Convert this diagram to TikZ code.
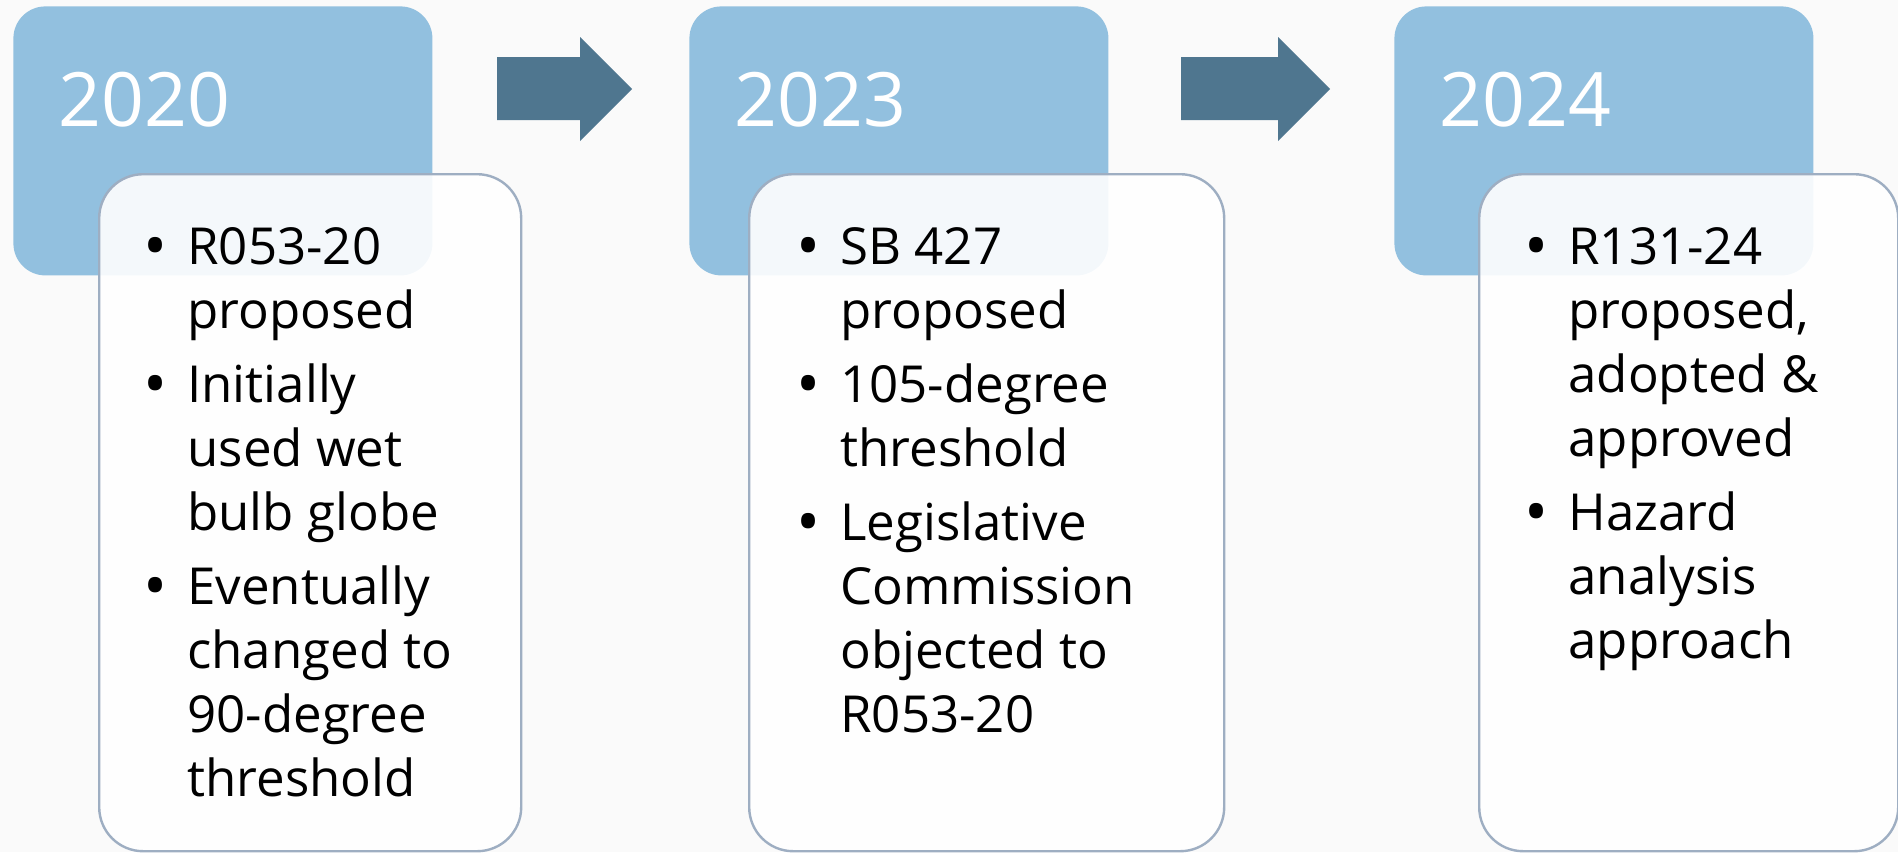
\documentclass[tikz,border=0pt]{standalone}
\usepackage{fontspec}
\setmainfont{Open Sans}
\usetikzlibrary{positioning}
\definecolor{yearblue}{RGB}{146,192,223}
\definecolor{arrowblue}{RGB}{79,118,143}
\definecolor{cardline}{RGB}{158,174,194}
\definecolor{pagegrey}{RGB}{250,250,250}
\newcommand{\bul}{\makebox[21pt][l]{\hspace{-1pt}\raisebox{-2.2pt}{\fontsize{32}{32}\selectfont\textbullet}}}

\begin{document}
\begin{tikzpicture}
    [x=0.5pt, y=-0.5pt, font=\fontsize{25.5}{32}\selectfont,
    % STYLES
    % The year style is used to draw the blue boxes on top
    year/.style={rectangle, fill=yearblue, rounded corners=16pt, minimum width=209.5pt, minimum height=134.5pt, inner sep=0pt, anchor=north west},
    yeartext/.style={text=white, inner sep=0pt, anchor=base west, font=\fontsize{37.5}{45}\selectfont},
    % The card style is used for the white boxes with the bullet points
    card/.style={rectangle, draw=cardline, line width=1.2pt, fill=white, fill opacity=0.9, rounded corners=22pt, minimum height=338.5pt, inner sep=0pt, anchor=north west},
    points/.style={inner sep=0pt, anchor=base west},
    blockarrow/.style={fill=arrowblue}]

    \fill[pagegrey] (0,0) rectangle (1898,852);
    \useasboundingbox (0,0) rectangle (1898,852);

    % Draw years
    \node[year] (y2020) at (13,6) {};
    \node[year] (y2023) at (689,6) {};
    \node[year] (y2024) at (1394,6) {};
    \node[yeartext] (t2020) at ([xshift=22.5pt, yshift=-60pt]y2020.north west) {2020};
    \node[yeartext] (t2023) at ([xshift=22.5pt, yshift=-60pt]y2023.north west) {2023};
    \node[yeartext] (t2024) at ([xshift=22.5pt, yshift=-60pt]y2024.north west) {2024};

    % Draw the cards
    \node[card, minimum width=211pt] (c2020) at (98,173) {};
    \node[card, minimum width=237.5pt] (c2023) at (748,173) {};
    \node[card, minimum width=209.5pt] (c2024) at (1478,173) {};

    \node[points] (p2020) at ([xshift=23.5pt, yshift=-45.5pt]c2020.north west)
      {\begin{tabular}[t]{@{}l@{}l@{}}
       \bul & R053-20\\
            & proposed\\[5pt]
       \bul & Initially\\
            & used wet\\
            & bulb globe\\[5pt]
       \bul & Eventually\\
            & changed to\\
            & 90-degree\\
            & threshold
       \end{tabular}};
    \node[points] (p2023) at ([xshift=25pt, yshift=-45.5pt]c2023.north west)
      {\begin{tabular}[t]{@{}l@{}l@{}}
       \bul & SB 427\\
            & proposed\\[5pt]
       \bul & 105-degree\\
            & threshold\\[5pt]
       \bul & Legislative\\
            & Commission\\
            & objected to\\
            & R053-20
       \end{tabular}};
    \node[points] (p2024) at ([xshift=24pt, yshift=-45.5pt]c2024.north west)
      {\begin{tabular}[t]{@{}l@{}l@{}}
       \bul & R131-24\\
            & proposed,\\
            & adopted \&\\
            & approved\\[5pt]
       \bul & Hazard\\
            & analysis\\
            & approach
       \end{tabular}};

    % Draw the arrows between the years
    \coordinate (a1) at (497,57);
    \coordinate (a2) at (1181,57);
    \fill[blockarrow] (a1) -- ++(83,0) -- ++(0,-20) -- ++(52,52) -- ++(-52,52) -- ++(0,-21) -- ++(-83,0) -- cycle;
    \fill[blockarrow] (a2) -- ++(97,0) -- ++(0,-20) -- ++(52,52) -- ++(-52,52) -- ++(0,-21) -- ++(-97,0) -- cycle;
\end{tikzpicture}
\end{document}
